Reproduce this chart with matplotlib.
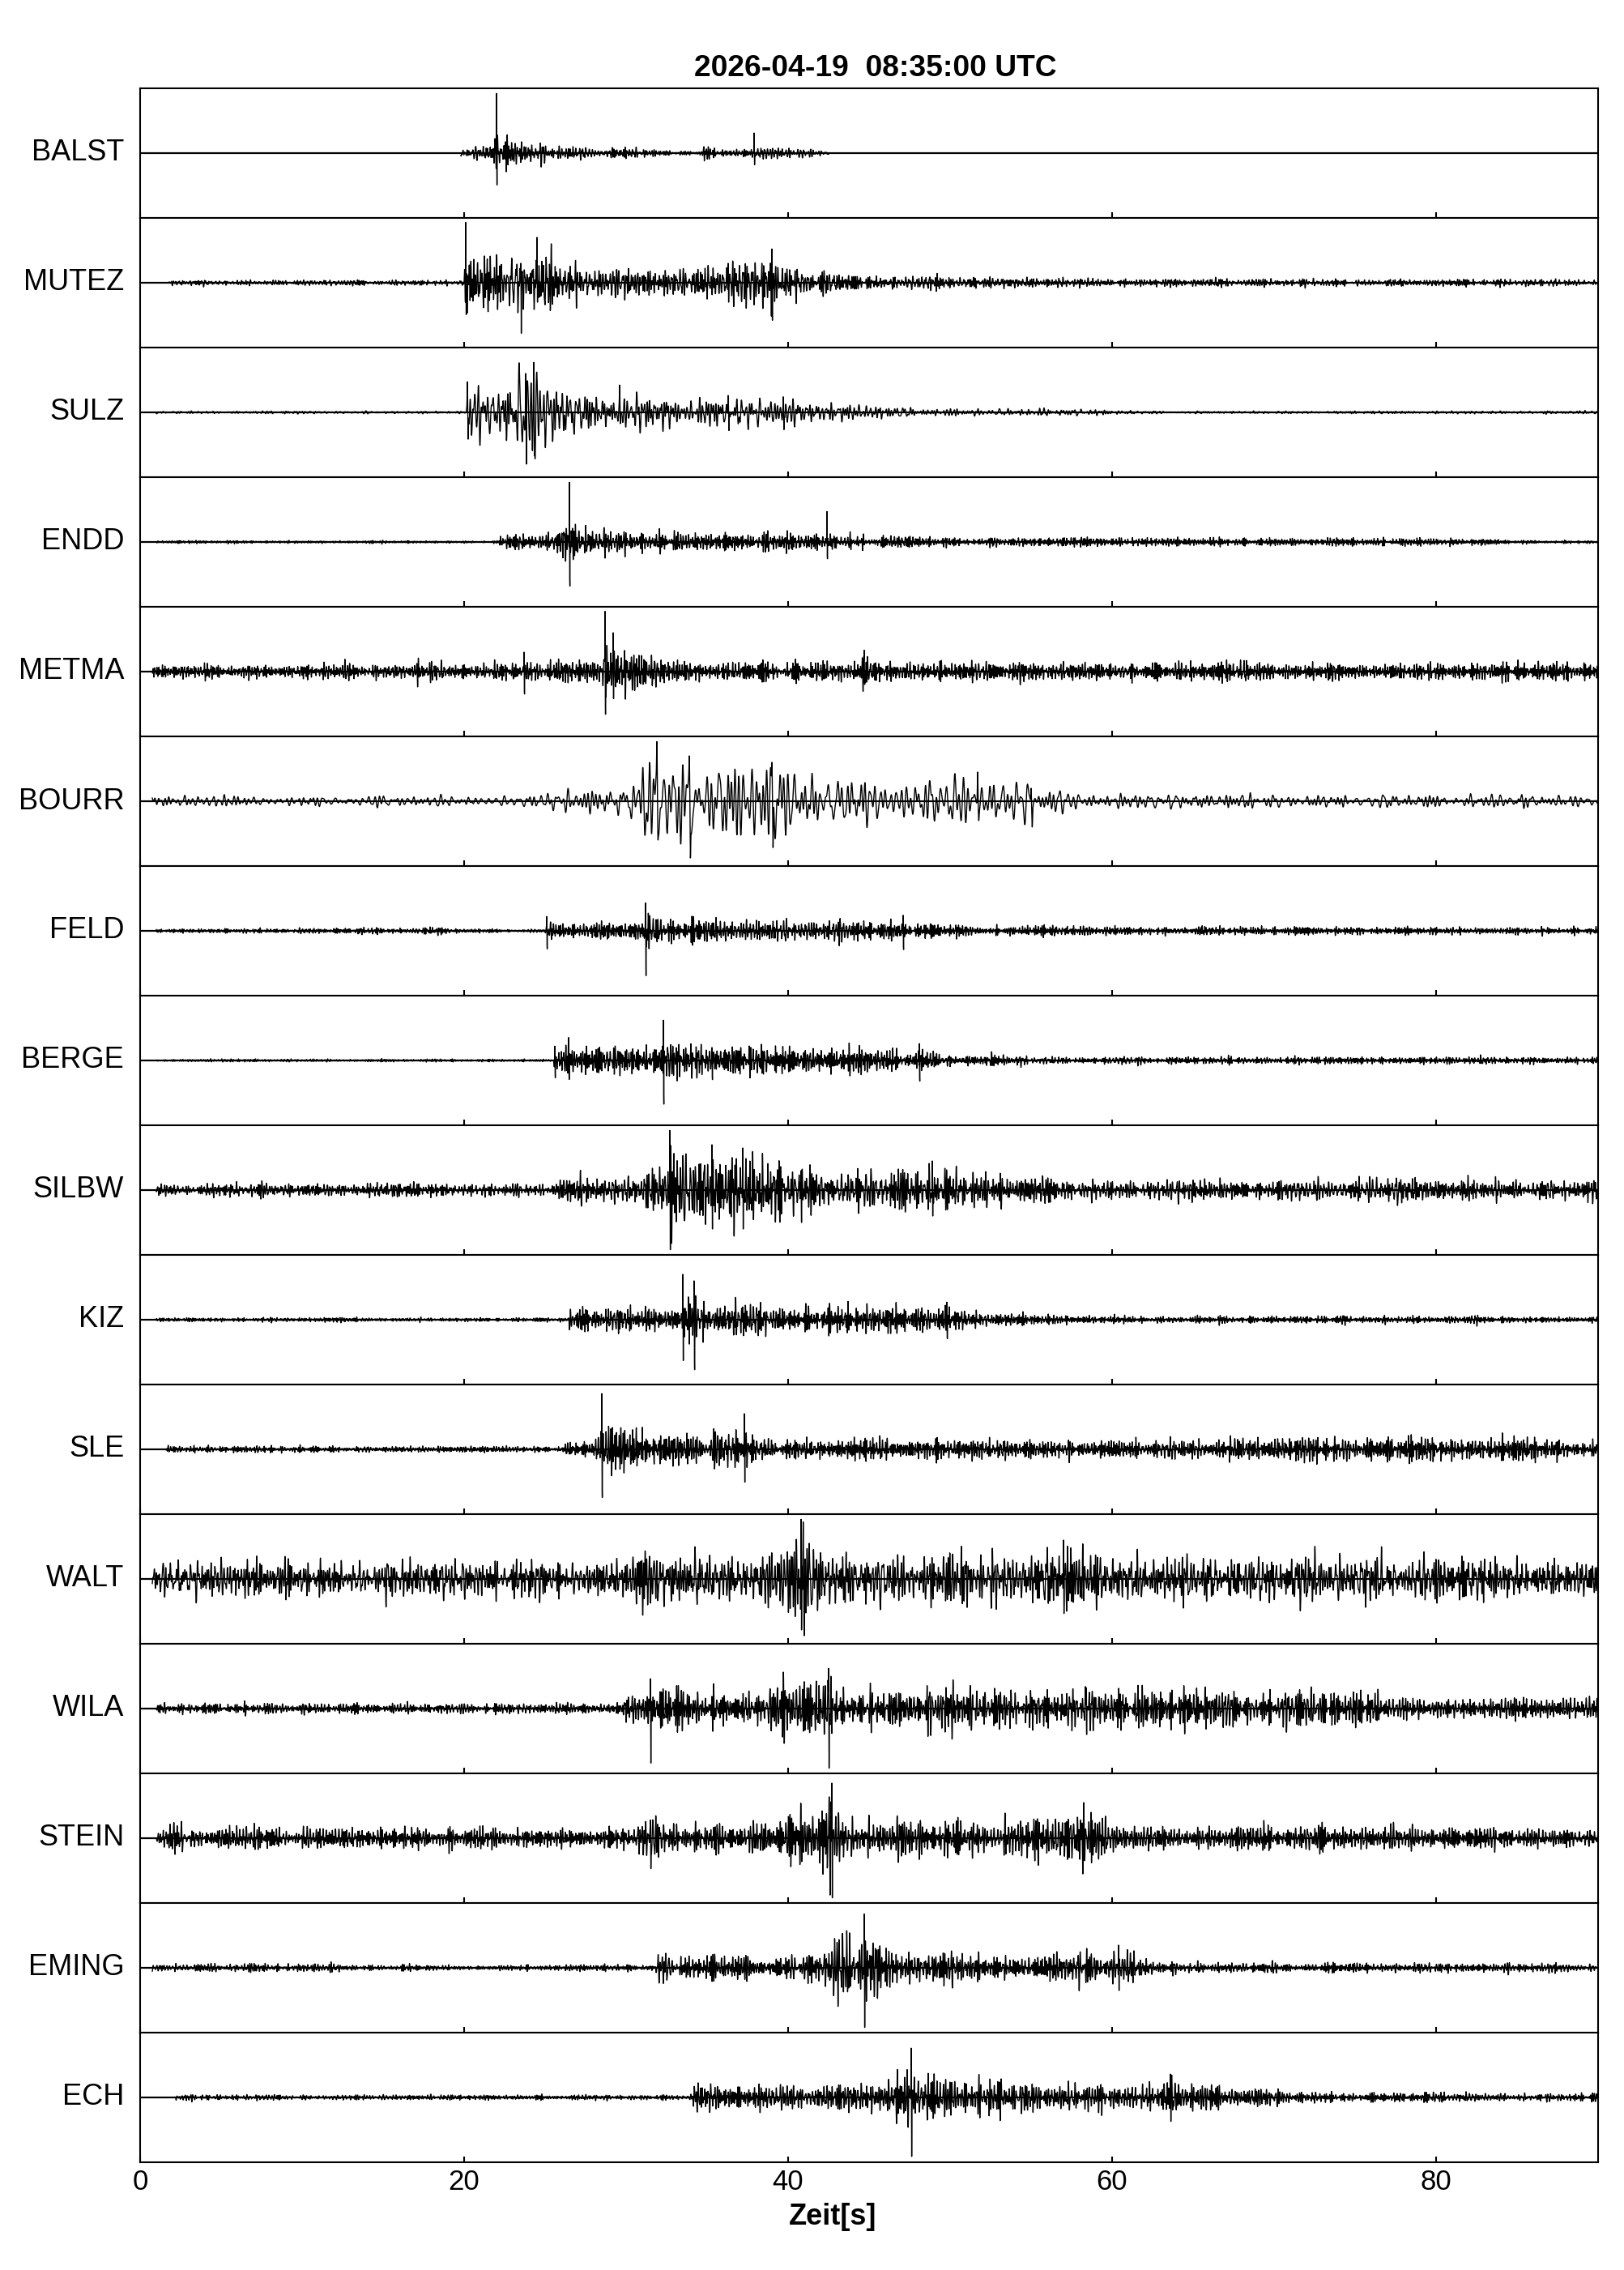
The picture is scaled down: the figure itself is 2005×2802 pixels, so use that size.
import numpy as np
import matplotlib
matplotlib.use("Agg")
import matplotlib.pyplot as plt

plt.rcParams['font.family'] = ['Liberation Sans', 'DejaVu Sans']

TITLE = "2026-04-19  08:35:00 UTC"
XLABEL = "Zeit[s]"
XTICKS = [0, 20, 40, 60, 80]
XMAX = 90.0
FS = 100.0  # samples per second

STATIONS = ["BALST", "MUTEZ", "SULZ", "ENDD", "METMA", "BOURR", "FELD", "BERGE",
            "SILBW", "KIZ", "SLE", "WALT", "WILA", "STEIN", "EMING", "ECH"]

# recording window (start, end) in seconds
WIN_BALST = (19.8, 42.5)
WIN_MUTEZ = (1.8, 90.0)
WIN_SULZ = (1.0, 90.0)
WIN_ENDD = (1.0, 90.0)
WIN_METMA = (0.75, 90.0)
WIN_BOURR = (0.75, 90.0)
WIN_FELD = (1.0, 90.0)
WIN_BERGE = (1.0, 90.0)
WIN_SILBW = (1.0, 90.0)
WIN_KIZ = (1.0, 90.0)
WIN_SLE = (1.6, 90.0)
WIN_WALT = (0.75, 90.0)
WIN_WILA = (1.0, 90.0)
WIN_STEIN = (1.0, 90.0)
WIN_EMING = (0.75, 90.0)
WIN_ECH = (2.2, 90.0)

# frequency band of the wiggles (Hz)
BAND_BALST = (4, 12)
BAND_MUTEZ = (3, 12)
BAND_SULZ = (1.5, 8)
BAND_ENDD = (4, 14)
BAND_METMA = (4, 14)
BAND_BOURR = (1.0, 5.0)
BAND_FELD = (4, 14)
BAND_BERGE = (4, 14)
BAND_SILBW = (3, 12)
BAND_KIZ = (4, 14)
BAND_SLE = (4, 14)
BAND_WALT = (2, 11)
BAND_WILA = (4, 12)
BAND_STEIN = (4, 12)
BAND_EMING = (4, 12)
BAND_ECH = (4, 12)

# envelope: (time s, amplitude as fraction of half panel)
ENV_BALST = [(19.8, .08), (21.8, .1), (22.0, .3), (23, .25), (25, .15), (28, .08), (32, .05),
             (34.5, .03), (34.8, .12), (35.5, .06), (37.5, .06), (38, .15), (39, .1), (42.5, .05)]
ENV_MUTEZ = [(1.8, .04), (20.0, .04), (20.1, .5), (21, .4), (23, .55), (24.5, .5), (26, .3), (30, .22),
             (34, .2), (36, .3), (38, .3), (39, .35), (41, .2), (45, .13), (52, .08), (60, .06), (90, .05)]
ENV_SULZ = [(1, .02), (20.1, .02), (20.2, .4), (22, .4), (23.5, .7), (24.7, .6), (26, .35), (28, .28),
            (31, .25), (36, .22), (40, .22), (42, .15), (45, .1), (50, .06), (58, .05), (62, .02), (90, .02)]
ENV_ENDD = [(1, .02), (22.1, .02), (22.2, .12), (26, .15), (26.5, .3), (28, .2), (33, .15), (42, .13),
            (43, .1), (50, .07), (80, .06), (85, .03), (90, .02)]
ENV_METMA = [(0.75, .11), (23.5, .12), (23.7, .2), (28.5, .15), (28.7, .5), (30, .3), (32, .2), (35, .15),
             (44.5, .15), (44.7, .25), (46, .14), (90, .13)]
ENV_BOURR = [(0.75, .08), (24.5, .08), (25, .15), (30, .2), (31, .6), (33, .75), (37, .6), (39, .6),
             (40, .4), (44, .35), (46, .35), (51, .4), (52, .3), (55, .3), (56, .12), (90, .09)]
ENV_FELD = [(1, .03), (15.5, .04), (19, .05), (20, .03), (25, .03), (25.1, .12), (31, .13), (31.2, .3),
            (32, .2), (38, .16), (47, .15), (48, .1), (60, .07), (90, .05)]
ENV_BERGE = [(1, .02), (25.5, .02), (25.6, .2), (32, .2), (32.3, .35), (34, .28), (38, .2), (48, .17),
             (50, .08), (60, .06), (90, .05)]
ENV_SILBW = [(1, .1), (25.6, .1), (25.8, .2), (31, .22), (32.5, .6), (34, .55), (37.5, .5), (41, .3),
             (45, .3), (47, .4), (50, .35), (52, .25), (55, .2), (60, .15), (75, .17), (90, .14)]
ENV_KIZ = [(1, .03), (26.4, .03), (26.5, .15), (31, .2), (33.4, .2), (33.6, .4), (35, .25), (40, .22),
           (48, .2), (50, .2), (52, .1), (57, .06), (90, .05)]
ENV_SLE = [(1.6, .05), (26.2, .05), (26.3, .15), (28.4, .15), (28.5, .5), (29.5, .3), (32, .25), (36, .25),
           (38, .2), (42, .15), (69, .15), (72, .2), (75, .16), (90, .15)]
ENV_WALT = [(0.75, .28), (30, .28), (31, .38), (37, .38), (38.5, .6), (41, .75), (42, .5), (44, .38),
            (55, .35), (56, .5), (58, .5), (59, .35), (90, .3)]
ENV_WILA = [(1, .08), (29.7, .08), (29.8, .3), (32, .28), (38, .25), (39, .45), (42.5, .55), (43, .35),
            (46, .3), (75, .28), (78, .16), (90, .15)]
ENV_STEIN = [(1, .18), (30, .15), (31, .3), (33, .22), (39.5, .25), (40.5, .55), (43, .6), (44, .3),
             (55, .3), (58, .35), (60, .25), (62, .17), (90, .17)]
ENV_EMING = [(0.75, .07), (12, .07), (13, .04), (31.8, .05), (32, .2), (42, .18), (43, .45), (45, .5),
             (46.5, .25), (57, .2), (59, .3), (61, .3), (62, .12), (65, .08), (90, .06)]
ENV_ECH = [(2.2, .04), (34.1, .04), (34.2, .22), (46, .2), (47.2, .45), (48.5, .35), (55, .25), (63, .2),
           (63.6, .35), (64.5, .2), (70, .13), (75, .07), (90, .06)]

# distinct peaks: (time s, upward extent, downward extent) as fraction of half panel
PK_BALST = [(22.0, .92, .49), (34.8, .10, .12), (37.9, .31, .18)]
PK_MUTEZ = [(20.1, .93, .49), (23.5, .30, .78), (24.5, .70, .30), (36.3, .30, .30), (39.0, .52, .58)]
PK_SULZ = [(20.2, .47, .47), (23.8, .60, .92), (24.3, .77, .70), (29.6, .42, .20), (36.3, .26, .32), (39.7, .24, .30)]
PK_ENDD = [(26.5, .92, .89), (42.4, .47, .34)]
PK_METMA = [(23.7, .30, .42), (28.7, .93, .77), (29.2, .60, .50), (44.7, .33, .26)]
PK_BOURR = [(31.9, .92, .60), (33.9, .70, .88), (39.0, .60, .72), (51.7, .45, .30), (55.0, .20, .40)]
PK_FELD = [(25.1, .22, .36), (31.2, .43, .92), (47.1, .24, .37)]
PK_BERGE = [(25.6, .22, .37), (32.3, .62, .92), (35.3, .20, .38), (48.1, .26, .42)]
PK_SILBW = [(32.7, .92, .92), (35.3, .70, .60), (37.2, .65, .60), (40.8, .30, .50), (48.9, .45, .40)]
PK_KIZ = [(33.5, .70, .85), (34.2, .60, .93), (49.8, .27, .33)]
PK_SLE = [(28.5, .86, .91), (31.0, .34, .20), (37.3, .55, .63)]
PK_WALT = [(40.8, .92, .87), (57.0, .60, .57)]
PK_WILA = [(31.5, .46, .84), (42.5, .62, .92), (58.4, .32, .40)]
PK_STEIN = [(31.5, .28, .47), (42.7, .85, .92), (58.7, .40, .38)]
PK_EMING = [(44.7, .83, .92), (60.4, .35, .35)]
PK_ECH = [(47.6, .76, .91), (63.6, .36, .37)]

WINS = [WIN_BALST, WIN_MUTEZ, WIN_SULZ, WIN_ENDD, WIN_METMA, WIN_BOURR, WIN_FELD, WIN_BERGE,
        WIN_SILBW, WIN_KIZ, WIN_SLE, WIN_WALT, WIN_WILA, WIN_STEIN, WIN_EMING, WIN_ECH]
BANDS = [BAND_BALST, BAND_MUTEZ, BAND_SULZ, BAND_ENDD, BAND_METMA, BAND_BOURR, BAND_FELD, BAND_BERGE,
         BAND_SILBW, BAND_KIZ, BAND_SLE, BAND_WALT, BAND_WILA, BAND_STEIN, BAND_EMING, BAND_ECH]
ENVS = [ENV_BALST, ENV_MUTEZ, ENV_SULZ, ENV_ENDD, ENV_METMA, ENV_BOURR, ENV_FELD, ENV_BERGE,
        ENV_SILBW, ENV_KIZ, ENV_SLE, ENV_WALT, ENV_WILA, ENV_STEIN, ENV_EMING, ENV_ECH]
PKS = [PK_BALST, PK_MUTEZ, PK_SULZ, PK_ENDD, PK_METMA, PK_BOURR, PK_FELD, PK_BERGE,
       PK_SILBW, PK_KIZ, PK_SLE, PK_WALT, PK_WILA, PK_STEIN, PK_EMING, PK_ECH]

NS = int(round(XMAX * FS))
T_ALL = np.arange(NS) / FS


def carrier(band, idx):
    """deterministic band-limited texture (hashed phases), unit rms"""
    freqs = np.fft.rfftfreq(NS, 1.0 / FS)
    k = np.arange(freqs.size, dtype=float)
    mag = ((freqs >= band[0]) & (freqs <= band[1])).astype(float)
    h = np.sin(k * 12.9898 + (idx + 1) * 78.233) * 43758.5453
    ph = 2 * np.pi * (h - np.floor(h))
    sig = np.fft.irfft(mag * np.exp(1j * ph), n=NS)
    return sig / sig.std()


def trace(idx):
    t0, t1 = WINS[idx]
    band = BANDS[idx]
    c = carrier(band, idx)
    sel = (T_ALL >= t0) & (T_ALL <= t1)
    t = T_ALL[sel]
    et, ea = zip(*ENVS[idx])
    env = np.interp(t, et, ea)
    y = env * c[sel] / 2.3
    w = 0.12 / band[1]
    for tp, up, dn in PKS[idx]:
        g1 = np.exp(-((t - tp) / w) ** 2)
        g2 = np.exp(-((t - tp - 3 * w) / w) ** 2)
        y = y * (1 - g1) * (1 - g2) + up * g1 - dn * g2
    return t, np.clip(y, -0.97, 0.97)


W, H, DPI = 2005, 2802, 200
fig = plt.figure(figsize=(W / DPI, H / DPI), dpi=DPI)
left, right = 173 / W, 1973 / W
top_px, panel_px = 109, 160
n = len(STATIONS)
for i, name in enumerate(STATIONS):
    y0 = 1 - (top_px + (i + 1) * panel_px) / H
    ax = fig.add_axes([left, y0, right - left, panel_px / H])
    ax.axhline(0, color='black', lw=0.8, zorder=1)
    t, y = trace(i)
    ax.plot(t, y, color='black', lw=0.5, zorder=2)
    ax.set_xlim(0, XMAX)
    ax.set_ylim(-1, 1)
    ax.set_yticks([])
    ax.set_xticks(XTICKS)
    ax.tick_params(axis='x', direction='in', length=2.5, width=0.75, pad=3, labelsize=12.5)
    for s in ax.spines.values():
        s.set_linewidth(0.75)
    if i < n - 1:
        ax.tick_params(axis='x', labelbottom=False)
    ax.text(-0.011, 0.5, name, transform=ax.transAxes, ha='right', va='center', fontsize=13)

fig.text(1081 / W, 1 - 94 / H, TITLE, ha='center', va='baseline', fontsize=13.4, fontweight='bold')
fig.text(1028 / W, 1 - 2746 / H, XLABEL, ha='center', va='baseline', fontsize=13, fontweight='bold')
fig.savefig("out.png", dpi=DPI)
